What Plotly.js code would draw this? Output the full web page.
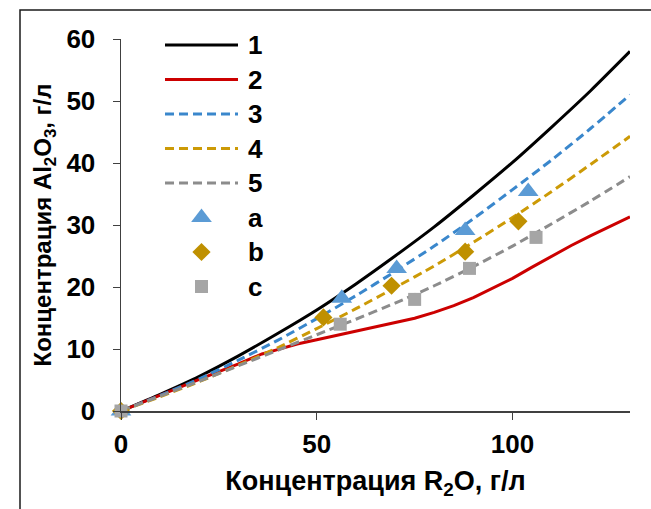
<!DOCTYPE html>
<html>
<head>
<meta charset="utf-8">
<script src="https://cdn.plot.ly/plotly-3.0.1.min.js"></script>
<style>
  html, body { margin: 0; padding: 0; background: #fff; }
  #chart { width: 651px; height: 509px; }
</style>
</head>
<body>
<div id="chart"></div>
<script>
// R2O concentration grid for the model curves, g/l
const xCurve = [0, 10, 20, 30, 40, 50, 60, 70, 80, 90, 100, 110, 120, 130];
// Model curves 1, 3, 4, 5 (Al2O3, g/l)
const curve1 = [0, 2.7, 5.6, 8.9, 12.5, 16.3, 20.5, 25.0, 29.7, 34.8, 40.1, 45.8, 51.7, 58.0];
const curve3 = [0, 2.5, 5.2, 8.2, 11.4, 14.9, 18.6, 22.5, 26.6, 31.0, 35.7, 40.5, 45.6, 51.0];
const curve4 = [0, 2.3, 4.75, 7.4, 10.2, 13.3, 16.5, 19.9, 23.4, 27.2, 31.2, 35.4, 39.8, 44.3];
const curve5 = [0, 2.4, 4.8, 7.3, 9.8, 12.3, 14.8, 17.4, 20.2, 23.3, 26.6, 30.2, 33.9, 37.8];
// Curve 2 has its own, denser grid (break near 37 g/l, bend near 78 g/l)
const xCurve2 = [0, 10, 20, 30, 36, 40, 45, 50, 60, 70, 75, 80, 85, 90, 95, 100, 105, 110, 115, 120, 125, 130];
const curve2  = [0, 2.6, 5.1, 7.6, 9.2, 9.9, 10.8, 11.5, 12.9, 14.2, 14.95, 15.9, 17.0, 18.3, 19.8, 21.4, 23.2, 25.0, 26.7, 28.3, 29.8, 31.3];
// Experimental points a, b, c
const xA = [0, 56.4, 70.4, 87.9, 104.0];
const yA = [0, 18.2, 23.0, 29.1, 35.4];
const xB = [0, 51.7, 69.1, 87.9, 101.5];
const yB = [0, 15.1, 20.2, 25.7, 30.6];
const xC = [0, 56.0, 75.0, 89.0, 106.0];
const yC = [0, 14.0, 18.0, 23.0, 28.0];

const xTicks = [0, 50, 100];
const yTicks = [0, 10, 20, 30, 40, 50, 60];

// Series styling and legend entries (lines first, then points)
const lineNames  = ['1', '2', '3', '4', '5'];
const lineColors = ['#000000', '#CC0000', '#3A87CC', '#CC9A06', '#8C8C8C'];
const lineDashes = ['solid', 'solid', '9px,5px', '9px,5px', '9px,5px'];
const lineShapes = ['spline', 'linear', 'spline', 'spline', 'spline'];
const pointNames   = ['a', 'b', 'c'];
const pointColors  = ['#5B9BD5', '#BF9000', '#A5A5A5'];
const pointSymbols = ['triangle-up', 'diamond', 'square'];
const pointSizes   = [18, 14, 13];

// Page and plot area geometry in pixels
const W = 651, H = 509;
const M = { l: 121, r: 21, t: 39, b: 98 };
const pw = W - M.l - M.r, ph = H - M.t - M.b;
const px = v => (v - M.l) / pw;
const py = v => (H - M.b - v) / ph;

const FONT = 'Liberation Sans, Arial, sans-serif';
const FS = 26;

const curvesX = [xCurve, xCurve2, xCurve, xCurve, xCurve];
const curvesY = [curve1, curve2, curve3, curve4, curve5];
const pointsX = [xA, xB, xC];
const pointsY = [yA, yB, yC];

const data = [];
lineNames.forEach((n, i) => {
  data.push({
    type: 'scatter', mode: 'lines', name: n, x: curvesX[i], y: curvesY[i],
    line: { color: lineColors[i], width: 3, dash: lineDashes[i], shape: lineShapes[i], smoothing: 0.6 },
    cliponaxis: false, hoverinfo: 'skip', showlegend: false
  });
});
pointNames.forEach((n, i) => {
  data.push({
    type: 'scatter', mode: 'markers', name: n, x: pointsX[i], y: pointsY[i],
    marker: { color: pointColors[i], symbol: pointSymbols[i], size: pointSizes[i], line: { width: 0 } },
    cliponaxis: false, hoverinfo: 'skip', showlegend: false
  });
});

// Legend box: drawn on an overlay axis pair measured in page pixels
const LEG = { x0: 165, x1: 238, text: 246, top: 45, step: 34.5 };
const legendShapes = [];
const legendNotes = [];
lineNames.forEach((n, i) => {
  const y = LEG.top + i * LEG.step;
  legendShapes.push({
    type: 'line', xref: 'x2', yref: 'y2', x0: LEG.x0, x1: LEG.x1, y0: y, y1: y,
    line: { color: lineColors[i], width: 3, dash: lineDashes[i] }
  });
  legendNotes.push({ xref: 'x2', yref: 'y2', x: LEG.text, y: y, text: '<b>' + n + '</b>',
    showarrow: false, xanchor: 'left', yanchor: 'middle', font: { family: FONT, size: FS, color: '#000' } });
});
pointNames.forEach((n, i) => {
  const y = LEG.top + (lineNames.length + i) * LEG.step;
  data.push({
    type: 'scatter', mode: 'markers', xaxis: 'x2', yaxis: 'y2',
    x: [(LEG.x0 + LEG.x1) / 2], y: [y], showlegend: false, hoverinfo: 'skip', cliponaxis: false,
    marker: { color: pointColors[i], symbol: pointSymbols[i], size: pointSizes[i], line: { width: 0 } }
  });
  legendNotes.push({ xref: 'x2', yref: 'y2', x: LEG.text, y: y, text: '<b>' + n + '</b>',
    showarrow: false, xanchor: 'left', yanchor: 'middle', font: { family: FONT, size: FS, color: '#000' } });
});

const layout = {
  width: W, height: H,
  margin: M,
  paper_bgcolor: '#ffffff',
  plot_bgcolor: '#ffffff',
  font: { family: FONT, size: FS, color: '#000000' },
  showlegend: false,
  xaxis: {
    range: [0, 130], tickvals: xTicks, ticks: 'outside', ticklen: 7, tickwidth: 1,
    tickcolor: '#404040', showline: true, linecolor: '#404040', linewidth: 1.5,
    showgrid: false, zeroline: false, ticklabelstandoff: 2,
    tickfont: { family: FONT, size: FS, weight: 'bold' },
    title: { text: '<b>Концентрация R<sub>2</sub>O, г/л</b>', font: { family: FONT, size: 27 }, standoff: 13 }
  },
  yaxis: {
    range: [0, 60], tickvals: yTicks, ticks: 'outside', ticklen: 7, tickwidth: 1,
    tickcolor: '#404040', showline: true, linecolor: '#404040', linewidth: 1.5,
    showgrid: false, zeroline: false, ticklabelstandoff: 12,
    tickfont: { family: FONT, size: FS, weight: 'bold' },
    title: { text: '<b>Концентрация Al<sub>2</sub>O<sub>3</sub>, г/л</b>', font: { family: FONT, size: 24 }, standoff: 8 }
  },
  xaxis2: { overlaying: 'x', range: [M.l, W - M.r], visible: false, fixedrange: true },
  yaxis2: { overlaying: 'y', range: [H - M.b, M.t], visible: false, fixedrange: true },
  annotations: legendNotes,
  shapes: legendShapes.concat([{
    type: 'rect', xref: 'paper', yref: 'paper', layer: 'above',
    x0: px(20), x1: px(W + 20), y0: py(H + 20), y1: py(10),
    line: { color: '#1a1a1a', width: 1.5 }, fillcolor: 'rgba(0,0,0,0)'
  }])
};

Plotly.newPlot('chart', data, layout, { displayModeBar: false, staticPlot: true });
</script>
</body>
</html>
